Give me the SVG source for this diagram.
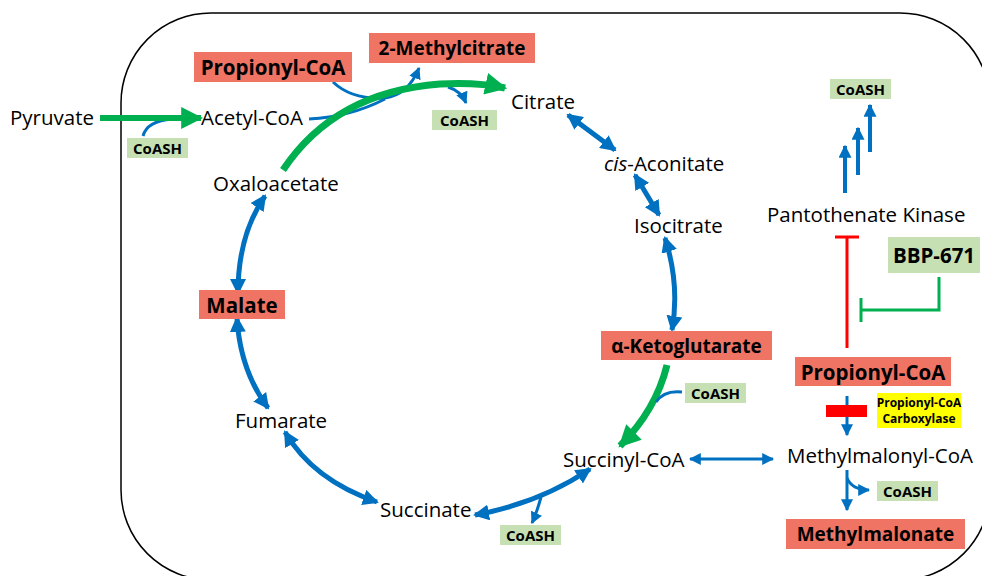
<svg xmlns="http://www.w3.org/2000/svg" width="982" height="576" viewBox="0 0 982 576">
<style>
text{font-family:"Open Sans","Noto Sans","Liberation Sans",sans-serif;fill:#000}
.n{font-size:20.5px}
.b{font-size:20.5px;font-weight:bold}
.bs{font-size:19px;font-weight:bold}
.c{font-size:15px;font-weight:bold}
.y{font-size:12px;font-weight:bold}
.red{fill:#EF7464}
.grn{fill:#C6E0B4}
.bl{fill:none;stroke:#0070C0;stroke-width:5}
.bt{fill:none;stroke:#0070C0;stroke-width:3}
.gr{fill:none;stroke:#00B050;stroke-width:7}
</style>
<defs>
<marker id="ab" viewBox="0 0 16 16" refX="14" refY="8" markerWidth="16" markerHeight="16" markerUnits="userSpaceOnUse" orient="auto-start-reverse"><path d="M0,0 L16,8 L0,16 z" fill="#0070C0"/></marker>
<marker id="as" viewBox="0 0 10 10" refX="9" refY="5" markerWidth="12" markerHeight="12" markerUnits="userSpaceOnUse" orient="auto-start-reverse"><path d="M0,0 L10,5 L0,10 z" fill="#0070C0"/></marker>
<marker id="ap" viewBox="0 0 10 10" refX="9" refY="5" markerWidth="13" markerHeight="13" markerUnits="userSpaceOnUse" orient="auto"><path d="M0,0 L10,5 L0,10 z" fill="#0070C0"/></marker>
<marker id="ag" viewBox="0 0 10 10" refX="9" refY="5" markerWidth="22" markerHeight="22" markerUnits="userSpaceOnUse" orient="auto"><path d="M0,0 L10,5 L0,10 z" fill="#00B050"/></marker>
</defs>
<rect x="121" y="13" width="869" height="567" rx="90" ry="90" fill="none" stroke="#000" stroke-width="1.5"/>
<g id="connectors">
<path class="bt" d="M143,136 Q147,121 172,119"/>
<path class="bt" d="M309,119 Q350,117 385,99"/>
<path class="bt" d="M333,82 Q352,100 385,98 Q408,95 419,68" marker-end="url(#as)"/>
<path class="bt" d="M448,87 Q461,91 466,103" marker-end="url(#as)"/>
<path d="M100,118 H201" fill="none" stroke="#00B050" stroke-width="6" marker-end="url(#ag)"/>
<path class="gr" d="M283,170 Q335,92 440,84 Q478,82 505,88" marker-end="url(#ag)"/>
<path class="bl" d="M568,115 L615,150" marker-start="url(#ab)" marker-end="url(#ab)"/>
<path class="bl" d="M635,175 L659,215" marker-start="url(#ab)" marker-end="url(#ab)"/>
<path class="bl" d="M665,238 Q680,285 672,330" marker-start="url(#ab)" marker-end="url(#ab)"/>
<path class="gr" d="M667,365 Q656,410 620,446" marker-end="url(#ag)"/>
<path class="bt" d="M682,392 Q664,390 656,402"/>
<path class="bl" d="M590,469 Q540,503 475,515" marker-start="url(#ab)" marker-end="url(#ab)"/>
<path class="bt" d="M541,497 Q537,512 532,523" marker-end="url(#as)"/>
<path class="bl" d="M377,502 Q313,480 285,432" marker-start="url(#ab)" marker-end="url(#ab)"/>
<path class="bl" d="M268,408 Q240,370 237,318" marker-start="url(#ab)" marker-end="url(#ab)"/>
<path class="bl" d="M238,293 Q238,235 265,196" marker-start="url(#ab)" marker-end="url(#ab)"/>
<path class="bt" d="M690,459 H773" marker-start="url(#as)" marker-end="url(#as)"/>
<path d="M845,193 V146" fill="none" stroke="#0070C0" stroke-width="4" marker-end="url(#ap)"/>
<path d="M858,175 V128" fill="none" stroke="#0070C0" stroke-width="4" marker-end="url(#ap)"/>
<path d="M870,152 V105" fill="none" stroke="#0070C0" stroke-width="4" marker-end="url(#ap)"/>
<path d="M847,348 V237 M835,237 H859" fill="none" stroke="#FF0000" stroke-width="3"/>
<path d="M939,277 V310 H861 M861,298 V322" fill="none" stroke="#00B050" stroke-width="3"/>
<path d="M847,396 V435" fill="none" stroke="#0070C0" stroke-width="3" marker-end="url(#as)"/>
<rect x="826" y="405" width="41" height="12" fill="#FF0000"/>
<path d="M847,470 V510" fill="none" stroke="#0070C0" stroke-width="3" marker-end="url(#as)"/>
<path d="M847,478 Q852,490 869,490" fill="none" stroke="#0070C0" stroke-width="3" marker-end="url(#as)"/>
</g>
<g id="pyruvate"><text class="n" x="10" y="125">Pyruvate</text></g>
<g id="acetylcoa"><text class="n" x="201" y="125">Acetyl-CoA</text></g>
<g id="citrate"><text class="n" x="511" y="109">Citrate</text></g>
<g id="cisaconitate"><text class="n" x="604" y="171"><tspan font-style="italic">cis</tspan>-Aconitate</text></g>
<g id="isocitrate"><text class="n" x="634" y="233">Isocitrate</text></g>
<g id="oxaloacetate"><text class="n" x="213" y="191">Oxaloacetate</text></g>
<g id="fumarate"><text class="n" x="235" y="428">Fumarate</text></g>
<g id="succinate"><text class="n" x="380" y="517">Succinate</text></g>
<g id="succinylcoa"><text class="n" x="563" y="467">Succinyl-CoA</text></g>
<g id="methylmalonylcoa"><text class="n" x="787" y="463">Methylmalonyl-CoA</text></g>
<g id="pantothenatekinase"><text class="n" x="767" y="222">Pantothenate Kinase</text></g>
<g id="propionylcoa1"><rect class="red" x="194" y="52" width="158" height="30"/><text class="b" x="273" y="74.5" text-anchor="middle">Propionyl-CoA</text></g>
<g id="methylcitrate"><rect class="red" x="369" y="33" width="166" height="30"/><text class="bs" x="452" y="55" text-anchor="middle">2-Methylcitrate</text></g>
<g id="malate"><rect class="red" x="199" y="290" width="86" height="29"/><text class="b" x="242" y="312.5" text-anchor="middle">Malate</text></g>
<g id="aketoglutarate"><rect class="red" x="601" y="331" width="171" height="29"/><text class="bs" x="686.5" y="353" text-anchor="middle">α-Ketoglutarate</text></g>
<g id="propionylcoa2"><rect class="red" x="795" y="357" width="156" height="29"/><text class="b" x="873" y="379.5" text-anchor="middle">Propionyl-CoA</text></g>
<g id="methylmalonate"><rect class="red" x="786" y="519" width="179" height="30"/><text class="bs" x="875.5" y="541" text-anchor="middle">Methylmalonate</text></g>
<g id="bbp671"><rect class="grn" x="888" y="237" width="92" height="36"/><text class="b" x="934" y="262.5" text-anchor="middle">BBP-671</text></g>
<g id="coash1"><rect class="grn" x="127" y="138" width="61" height="20"/><text class="c" x="157.5" y="153.5" text-anchor="middle">CoASH</text></g>
<g id="coash2"><rect class="grn" x="432" y="110" width="65" height="20"/><text class="c" x="464.5" y="125.5" text-anchor="middle">CoASH</text></g>
<g id="coash3"><rect class="grn" x="830" y="79" width="61" height="20"/><text class="c" x="860.5" y="94.5" text-anchor="middle">CoASH</text></g>
<g id="coash4"><rect class="grn" x="685" y="383" width="61" height="20"/><text class="c" x="715.5" y="398.5" text-anchor="middle">CoASH</text></g>
<g id="coash5"><rect class="grn" x="500" y="525" width="61" height="20"/><text class="c" x="530.5" y="540.5" text-anchor="middle">CoASH</text></g>
<g id="coash6"><rect class="grn" x="877" y="481" width="61" height="20"/><text class="c" x="907.5" y="496.5" text-anchor="middle">CoASH</text></g>
<g id="pcc"><rect x="877" y="393" width="84" height="35" fill="#FFFF00"/><text class="y" x="919" y="407" text-anchor="middle">Propionyl-CoA</text><text class="y" x="919" y="423" text-anchor="middle">Carboxylase</text></g>
</svg>
